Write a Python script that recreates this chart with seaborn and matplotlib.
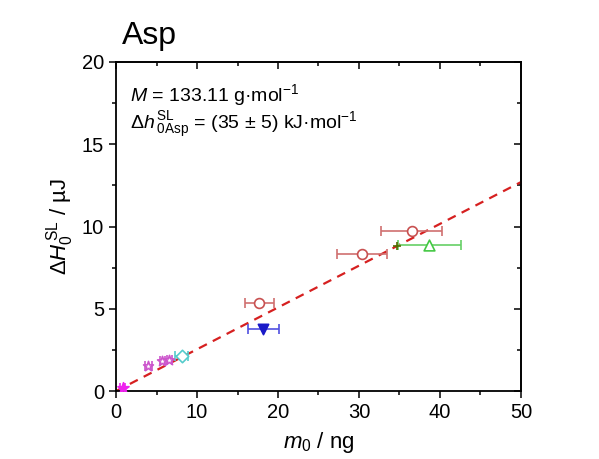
import matplotlib
matplotlib.use("Agg")
import matplotlib.pyplot as plt
import seaborn as sns
import numpy as np
import pandas as pd

# ---- data ----
point_ids = ["p1", "p2", "p3", "p4", "p5", "p6", "p7", "p8", "p9", "p10", "p11"]
m0 = [0.8, 4.0, 5.7, 6.6, 8.1, 18.2, 17.7, 30.4, 36.5, 38.7, 34.7]
dH = [0.2, 1.55, 1.82, 1.87, 2.13, 3.8, 5.33, 8.35, 9.7, 8.85, 8.83]
m0_err = [0.3, 0.4, 0.3, 0.3, 0.8, 1.9, 1.8, 3.1, 3.8, 3.9, 0.0]
fit_x = [0, 50]
fit_y = [0, 12.7]
x_ticks = [0, 10, 20, 30, 40, 50]
y_ticks = [0, 5, 10, 15, 20]

marker_style = ["*", "*", "*", "*", "D", "v", "o", "o", "o", "^", "+"]
edge_colors = ["#EE22EE", "#CC55CC", "#CC55CC", "#CC55CC", "#55CCCC", "#1A1AC8",
               "#C85050", "#C85050", "#C85050", "#44C844", "#556B00"]
face_filled = [True, False, False, False, False, True, False, False, False, False, True]
err_colors = ["#EE22EE", "#CC55CC", "#CC55CC", "#CC55CC", "#55CCCC", "#5050E0",
              "#D07070", "#D07070", "#D07070", "#66D066", "#556B00"]
marker_sizes = [70, 55, 55, 55, 40, 55, 50, 50, 50, 60, 40]

sns.set_theme(style="ticks")
plt.rcParams["font.family"] = ["Liberation Sans", "DejaVu Sans"]
plt.rcParams["mathtext.fontset"] = "custom"
plt.rcParams["mathtext.rm"] = "Liberation Sans"
plt.rcParams["mathtext.it"] = "Liberation Sans:italic"
plt.rcParams["mathtext.bf"] = "Liberation Sans:bold"
plt.rcParams["text.color"] = "black"
plt.rcParams["axes.labelcolor"] = "black"
plt.rcParams["xtick.color"] = "black"
plt.rcParams["ytick.color"] = "black"

fig = plt.figure(figsize=(5.99, 4.59), dpi=100)
ax = fig.add_axes([0.1937, 0.148, 0.676, 0.717])

df = pd.DataFrame({"id": point_ids, "m0": m0, "dH": dH, "err": m0_err})

# fit line
sns.lineplot(x=fit_x, y=fit_y, ax=ax, color="#D62020", linestyle=(0, (4, 3)),
             linewidth=1.6, zorder=1)

# error bars
for i, row in df.iterrows():
    if row["err"] > 0:
        ax.errorbar(row["m0"], row["dH"], xerr=row["err"], fmt="none",
                    ecolor=err_colors[i], elinewidth=1.2, capsize=3.5,
                    capthick=1.2, zorder=2)

# markers
for i, row in df.iterrows():
    sub = df.iloc[[i]]
    fc = edge_colors[i] if face_filled[i] else "white"
    sns.scatterplot(data=sub, x="m0", y="dH", ax=ax, marker=marker_style[i],
                    s=marker_sizes[i], color=fc, edgecolor=edge_colors[i],
                    linewidth=1.2, zorder=3, legend=False)

ax.set_xlim(0, 50)
ax.set_ylim(0, 20)
ax.set_xticks(x_ticks)
ax.set_yticks(y_ticks)
ax.set_xticks(np.arange(5, 50, 10), minor=True)
ax.set_yticks(np.arange(2.5, 20, 5), minor=True)
for s in ax.spines.values():
    s.set_linewidth(1.3)
    s.set_color("black")
ax.tick_params(which="both", direction="out", colors="black", width=1.1,
               labelsize=14.5, top=False, right=False)
ax.tick_params(which="major", length=5)
ax.tick_params(which="minor", length=3)

# mirrored inward ticks on top and right
top = ax.secondary_xaxis("top")
top.set_xticks(x_ticks)
top.set_xticks(np.arange(5, 50, 10), minor=True)
top.tick_params(which="both", direction="in", labeltop=False, width=1.1, colors="black")
top.tick_params(which="major", length=5)
top.tick_params(which="minor", length=3)
right = ax.secondary_yaxis("right")
right.set_yticks(y_ticks)
right.set_yticks(np.arange(2.5, 20, 5), minor=True)
right.tick_params(which="both", direction="in", labelright=False, width=1.1, colors="black")
right.tick_params(which="major", length=5)
right.tick_params(which="minor", length=3)

ax.set_xlabel(r"$m_0$ / ng", fontsize=16, labelpad=6)
ax.set_ylabel(r"$\Delta H_0^{\,\mathrm{SL}}$ / µJ", fontsize=16, labelpad=4)

ax.text(0.035, 0.88, r"$M$ = 133.11 g·mol$^{-1}$", transform=ax.transAxes,
        fontsize=14, va="baseline")
ax.text(0.035, 0.795, r"$\Delta h\,^{\mathrm{SL}}_{\mathrm{0Asp}}$ = (35 $\pm$ 5) kJ·mol$^{-1}$",
        transform=ax.transAxes, fontsize=14, va="baseline")

fig.text(0.203, 0.888, "Asp", fontsize=23, va="bottom", ha="left")

fig.savefig("out.png", dpi=100, facecolor="white")
